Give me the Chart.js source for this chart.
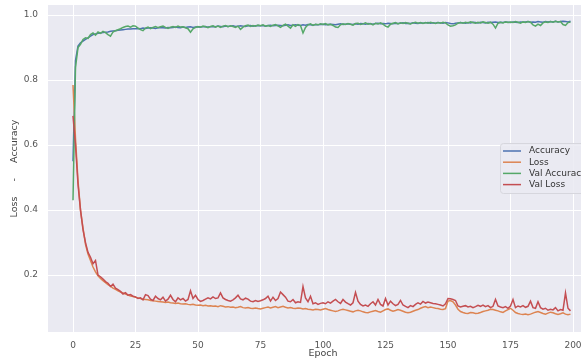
<!DOCTYPE html>
<html>
<head>
<meta charset="utf-8">
<script src="https://cdn.jsdelivr.net/npm/chart.js@4"></script>
<style>
  html, body { margin: 0; padding: 0; background: #fff; overflow: hidden; }
  #wrap { width: 620px; height: 360px; }
</style>
</head>
<body>
<div id="wrap"><canvas id="hist" width="620" height="360"></canvas></div>
<script>
const seriesNames = ["Accuracy", "Loss", "Val Accuracy", "Val Loss"];
const xTicks = [0, 25, 50, 75, 100, 125, 150, 175, 200];
const yTicks = [0.2, 0.4, 0.6, 0.8, 1.0];

const accuracy = [
  0.55, 0.86, 0.905, 0.915, 0.92, 0.925, 0.93, 0.935, 0.94, 0.942, 0.944, 0.945, 0.946, 0.947, 0.948, 0.95, 0.951, 0.952, 0.953, 0.954, 0.955, 0.956, 0.957, 0.957, 0.958,
  0.958, 0.959, 0.958, 0.960, 0.959, 0.960, 0.961, 0.960, 0.959, 0.961, 0.962, 0.961, 0.960, 0.962, 0.961, 0.962, 0.963, 0.962, 0.961, 0.963, 0.962, 0.963, 0.964, 0.962, 0.963,
  0.964, 0.963, 0.964, 0.965, 0.963, 0.964, 0.965, 0.964, 0.966, 0.965, 0.964, 0.966, 0.965, 0.966, 0.967, 0.965, 0.966, 0.967, 0.966, 0.965, 0.967, 0.968, 0.966, 0.967, 0.968,
  0.967, 0.968, 0.966, 0.968, 0.969, 0.967, 0.968, 0.969, 0.968, 0.967, 0.969, 0.970, 0.968, 0.969, 0.970, 0.969, 0.968, 0.970, 0.969, 0.971, 0.970, 0.969, 0.971, 0.970, 0.971,
  0.972, 0.970, 0.971, 0.972, 0.971, 0.970, 0.972, 0.973, 0.971, 0.972, 0.973, 0.972, 0.971, 0.973, 0.972, 0.974, 0.973, 0.972, 0.974, 0.973, 0.972, 0.974, 0.975, 0.973, 0.974,
  0.973, 0.975, 0.974, 0.973, 0.975, 0.974, 0.975, 0.976, 0.974, 0.975, 0.974, 0.976, 0.975, 0.974, 0.976, 0.975, 0.976, 0.977, 0.975, 0.976, 0.975, 0.977, 0.976, 0.975, 0.977,
  0.976, 0.974, 0.973, 0.975, 0.976, 0.977, 0.976, 0.975, 0.977, 0.976, 0.978, 0.977, 0.976, 0.978, 0.977, 0.976, 0.978, 0.977, 0.978, 0.979, 0.977, 0.978, 0.977, 0.979, 0.978,
  0.977, 0.979, 0.978, 0.977, 0.979, 0.978, 0.979, 0.980, 0.978, 0.979, 0.978, 0.980, 0.979, 0.978, 0.980, 0.979, 0.980, 0.979, 0.981, 0.979, 0.980, 0.981, 0.980, 0.979, 0.981
];

const loss = [
  0.785, 0.62, 0.49, 0.40, 0.345, 0.295, 0.265, 0.245, 0.225, 0.21, 0.198, 0.19, 0.183, 0.177, 0.171, 0.166, 0.16, 0.156, 0.152, 0.148, 0.145, 0.142, 0.139, 0.136, 0.134,
  0.132, 0.13, 0.128, 0.126, 0.125, 0.124, 0.122, 0.121, 0.12, 0.119, 0.118, 0.117, 0.116, 0.117, 0.115, 0.114, 0.113, 0.114, 0.112, 0.111, 0.112, 0.11, 0.109, 0.11, 0.108,
  0.107, 0.108, 0.106, 0.107, 0.105, 0.106, 0.104, 0.105, 0.103, 0.106, 0.104, 0.102, 0.103, 0.101, 0.102, 0.1, 0.101, 0.103, 0.1, 0.099, 0.1, 0.098, 0.097, 0.099, 0.097,
  0.096, 0.098, 0.1, 0.102, 0.099, 0.101, 0.103, 0.1, 0.102, 0.104, 0.101, 0.099, 0.1, 0.098, 0.097, 0.099, 0.098, 0.096, 0.097, 0.095, 0.094, 0.093, 0.095, 0.094, 0.093,
  0.095, 0.097, 0.094, 0.092, 0.09, 0.088, 0.09, 0.093, 0.095, 0.093, 0.091, 0.089, 0.087, 0.09, 0.092, 0.09, 0.087, 0.085, 0.084, 0.087, 0.089, 0.091, 0.088, 0.086, 0.09,
  0.094, 0.096, 0.092, 0.089, 0.091, 0.094, 0.092, 0.089, 0.086, 0.084, 0.086, 0.089, 0.092, 0.094, 0.098, 0.101, 0.103, 0.1, 0.102, 0.1, 0.098, 0.097, 0.095, 0.094, 0.097,
  0.12, 0.122, 0.118, 0.108, 0.095, 0.088, 0.085, 0.083, 0.082, 0.085, 0.084, 0.082, 0.083, 0.085, 0.088, 0.09, 0.092, 0.095, 0.094, 0.092, 0.09, 0.087, 0.085, 0.09, 0.094,
  0.098, 0.092, 0.085, 0.082, 0.08, 0.079, 0.08, 0.078, 0.08, 0.083, 0.086, 0.088, 0.085, 0.082, 0.08, 0.083, 0.086, 0.084, 0.081, 0.079, 0.081, 0.084, 0.08, 0.078, 0.08
];

const valAccuracy = [
  0.43, 0.84, 0.90, 0.91, 0.925, 0.93, 0.928, 0.94, 0.945, 0.938, 0.948, 0.944, 0.95, 0.946, 0.94, 0.935, 0.948, 0.952, 0.955, 0.958, 0.962, 0.965, 0.966, 0.963, 0.967,
  0.966, 0.96, 0.955, 0.952, 0.96, 0.963, 0.958, 0.962, 0.965, 0.961, 0.964, 0.966, 0.962, 0.959, 0.963, 0.965, 0.962, 0.966, 0.963, 0.964, 0.961, 0.958, 0.947, 0.958, 0.962,
  0.965, 0.963, 0.966, 0.964, 0.961, 0.965, 0.967, 0.963, 0.966, 0.962, 0.966, 0.968, 0.964, 0.967, 0.965, 0.962, 0.966, 0.956, 0.963, 0.967, 0.969, 0.965, 0.968, 0.966, 0.969,
  0.967, 0.97, 0.966, 0.968, 0.965, 0.969, 0.971, 0.967, 0.962, 0.968, 0.972, 0.966, 0.96, 0.97, 0.965, 0.971, 0.968, 0.945, 0.962, 0.97, 0.973, 0.968, 0.972, 0.97, 0.973,
  0.971, 0.974, 0.97, 0.972, 0.968, 0.963, 0.962, 0.97, 0.973, 0.971, 0.974, 0.972, 0.969, 0.974, 0.975, 0.971, 0.973, 0.976, 0.972, 0.974, 0.97, 0.975, 0.973, 0.976, 0.972,
  0.966, 0.963, 0.972, 0.975, 0.977, 0.973, 0.976, 0.974, 0.977, 0.975, 0.973, 0.976, 0.978, 0.975, 0.977, 0.974, 0.977, 0.975, 0.978, 0.976, 0.974, 0.977, 0.975, 0.978, 0.976,
  0.97, 0.966, 0.967, 0.97, 0.975, 0.977, 0.975, 0.978, 0.976, 0.979, 0.977, 0.975, 0.978, 0.976, 0.979, 0.977, 0.975, 0.978, 0.972, 0.96, 0.975, 0.978, 0.976, 0.979, 0.977,
  0.979, 0.977, 0.98, 0.978, 0.975, 0.979, 0.977, 0.98, 0.978, 0.97, 0.966, 0.972, 0.968, 0.976, 0.979, 0.977, 0.98, 0.978, 0.981, 0.979, 0.98, 0.971, 0.968, 0.977, 0.979
];

const valLoss = [
  0.69, 0.60, 0.48, 0.40, 0.34, 0.30, 0.27, 0.255, 0.235, 0.245, 0.2, 0.195, 0.188, 0.18, 0.175, 0.165, 0.172, 0.16, 0.155, 0.15, 0.142, 0.146, 0.138, 0.14, 0.135,
  0.133, 0.128, 0.13, 0.124, 0.14, 0.137, 0.126, 0.122, 0.135, 0.128, 0.124, 0.132, 0.12, 0.126, 0.138, 0.125, 0.118, 0.13, 0.124, 0.128, 0.12, 0.125, 0.152, 0.128, 0.138,
  0.125, 0.119, 0.122, 0.126, 0.13, 0.127, 0.133, 0.128, 0.13, 0.145, 0.13, 0.125, 0.122, 0.12, 0.124, 0.13, 0.138, 0.127, 0.124, 0.129, 0.126, 0.12, 0.118, 0.122, 0.119,
  0.121, 0.124, 0.128, 0.135, 0.12, 0.132, 0.122, 0.128, 0.148, 0.14, 0.132, 0.12, 0.118, 0.125, 0.115, 0.118, 0.116, 0.165, 0.13, 0.118, 0.135, 0.112, 0.115, 0.11, 0.113,
  0.115, 0.112, 0.118, 0.114, 0.12, 0.125, 0.118, 0.113, 0.125, 0.117, 0.112, 0.108, 0.115, 0.147, 0.12, 0.11, 0.105, 0.108, 0.104, 0.112, 0.118, 0.108, 0.125, 0.11, 0.105,
  0.128, 0.108, 0.12, 0.112, 0.106, 0.11, 0.122, 0.108, 0.104, 0.1, 0.106, 0.103, 0.11, 0.115, 0.111, 0.119, 0.114, 0.117, 0.115, 0.113, 0.112, 0.11, 0.108, 0.105, 0.112,
  0.128, 0.127, 0.125, 0.122, 0.105, 0.102, 0.104, 0.106, 0.102, 0.104, 0.1, 0.103, 0.107, 0.104, 0.108, 0.103, 0.106, 0.1, 0.104, 0.125, 0.105, 0.102, 0.1, 0.103, 0.098,
  0.105, 0.125, 0.1, 0.105, 0.102, 0.106, 0.101, 0.104, 0.12, 0.1, 0.098, 0.118, 0.1, 0.095, 0.098, 0.092, 0.095, 0.093, 0.1, 0.09, 0.094, 0.092, 0.145, 0.098, 0.09
];

const epochs = accuracy.map((_, i) => i);
const colors = ["#4C72B0", "#DD8452", "#55A868", "#C44E52"];
const allSeries = [accuracy, loss, valAccuracy, valLoss];

// lavender panel behind the plot, like seaborn darkgrid
const panelBg = {
  id: "panelBg",
  beforeDraw(chart) {
    const { ctx, chartArea: a } = chart;
    ctx.save();
    ctx.fillStyle = "#EAEAF2";
    ctx.fillRect(a.left, a.top, a.right - a.left, a.bottom - a.top);
    ctx.restore();
  }
};

// legend box inside the plot, on the right
const innerLegend = {
  id: "innerLegend",
  afterDraw(chart) {
    const ctx = chart.ctx;
    const x = 500, y = 143, w = 110, rowH = 11.2;
    ctx.save();
    ctx.fillStyle = "rgba(234,234,242,0.85)";
    ctx.strokeStyle = "#d6d6dd";
    ctx.lineWidth = 1;
    ctx.beginPath();
    ctx.roundRect(x + 0.5, y + 0.5, w, 50, 3);
    ctx.fill();
    ctx.stroke();
    ctx.font = "9px 'DejaVu Sans'";
    ctx.textBaseline = "middle";
    chart.data.datasets.forEach((ds, i) => {
      const cy = y + 8 + i * rowH;
      ctx.strokeStyle = ds.borderColor;
      ctx.lineWidth = 1.5;
      ctx.beginPath();
      ctx.moveTo(503, cy);
      ctx.lineTo(521, cy);
      ctx.stroke();
      ctx.fillStyle = "#333";
      ctx.fillText(ds.label, 529, cy);
    });
    ctx.restore();
  }
};

new Chart(document.getElementById("hist"), {
  type: "line",
  data: {
    labels: epochs,
    datasets: seriesNames.map((name, i) => ({
      label: name,
      data: allSeries[i],
      borderColor: colors[i],
      borderWidth: 1.5,
      pointRadius: 0,
      tension: 0,
      fill: false,
      order: 4 - i
    }))
  },
  options: {
    responsive: false,
    animation: false,
    events: [],
    layout: { padding: { left: 0, right: 22, top: 5, bottom: 0 } },
    plugins: { legend: { display: false }, tooltip: { enabled: false } },
    scales: {
      x: {
        type: "linear",
        min: -10,
        max: 210,
        afterBuildTicks: s => { s.ticks = xTicks.map(v => ({ value: v })); },
        afterFit: s => { s.height = 28; },
        grid: { color: "#ffffff", lineWidth: 1, drawTicks: false },
        border: { display: false },
        ticks: { color: "#555", font: { family: "DejaVu Sans", size: 9 }, padding: 8, maxRotation: 0 },
        title: { display: true, text: "Epoch", color: "#444", font: { family: "DejaVu Sans", size: 9.5 }, padding: { top: 0, bottom: 1 } }
      },
      y: {
        type: "linear",
        min: 0.025,
        max: 1.031,
        afterBuildTicks: s => { s.ticks = yTicks.map(v => ({ value: v })); },
        afterFit: s => { s.width = 48; s.paddingTop = 0; s.paddingBottom = 0; },
        grid: { color: "#ffffff", lineWidth: 1, drawTicks: false },
        border: { display: false },
        ticks: { color: "#555", font: { family: "DejaVu Sans", size: 9 }, padding: 10, callback: v => v.toFixed(1) },
        title: { display: true, text: "Loss     -     Accuracy", color: "#444", font: { family: "DejaVu Sans", size: 9.5 }, padding: { top: 9, bottom: 0 } }
      }
    }
  },
  plugins: [panelBg, innerLegend]
});
</script>
</body>
</html>
